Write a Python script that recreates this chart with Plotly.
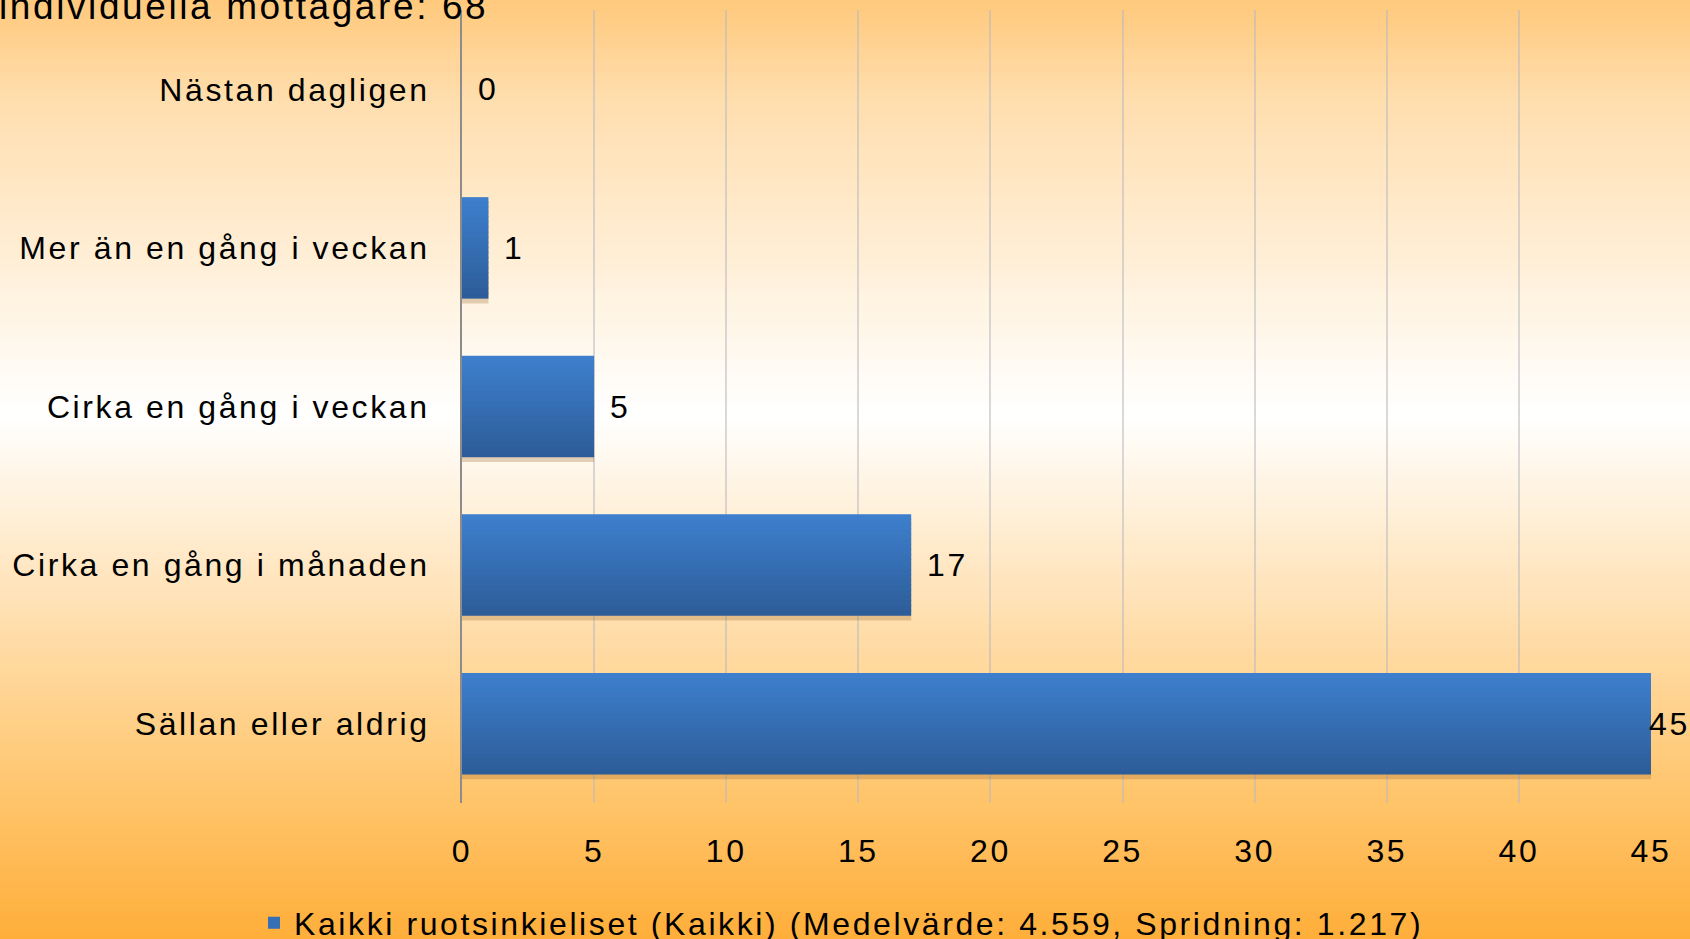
import plotly.graph_objects as go

categories = ["Nästan dagligen", "Mer än en gång i veckan", "Cirka en gång i veckan",
              "Cirka en gång i månaden", "Sällan eller aldrig"]
values = [0, 1, 5, 17, 45]
series_name = "Kaikki ruotsinkieliset (Kaikki) (Medelvärde: 4.559, Spridning: 1.217)"
title_line = "individuella mottagare: 68"
x_ticks = [0, 5, 10, 15, 20, 25, 30, 35, 40, 45]

W, H = 1690, 939
ML, MR, MT, MB = 462, 39, 10, 136
FONT = "Liberation Sans, Arial, sans-serif"
BAR_W = 0.64

def lerp(c0, c1, t):
    return tuple(round(a + (b - a) * t) for a, b in zip(c0, c1))

fig = go.Figure()

# soft shadow under bars
fig.add_trace(go.Bar(
    y=categories, x=values, orientation="h", width=BAR_W, offset=-BAR_W / 2 - 0.03,
    marker=dict(color="rgba(150,100,40,0.28)", line=dict(width=0)),
    showlegend=False, hoverinfo="skip",
))

# bar body with vertical gradient (light top -> dark bottom)
N = 20
bottom_c, top_c = (45, 93, 153), (61, 127, 205)
band = BAR_W / N
for k in range(N):
    c = lerp(bottom_c, top_c, k / (N - 1))
    fig.add_trace(go.Bar(
        y=categories, x=values, orientation="h",
        width=band + (0.006 if k < N - 1 else 0), offset=-BAR_W / 2 + k * band,
        marker=dict(color="rgb(%d,%d,%d)" % c, line=dict(width=0)),
        name=series_name, legendgroup="s", showlegend=(k == N // 2),
        hoverinfo="skip" if k != N // 2 else None,
    ))

# value labels
vmax = max(values)
for cat, v in zip(categories, values):
    fig.add_annotation(x=v, y=cat, xref="x", yref="y", text=str(v), showarrow=False,
                       xanchor="left", yanchor="middle", align="left",
                       xshift=(14 if v < vmax else -4),
                       font=dict(family=FONT, size=32, color="#000000"))

# background gradient bands (full figure)
pw = W - ML - MR
ph = H - MT - MB
stops = [(0, (255, 201, 124)), (100, (255, 222, 174)), (415, (255, 255, 255)),
         (600, (255, 226, 182)), (800, (255, 196, 106)), (939, (255, 174, 58))]

def col(py):
    for (y0, c0), (y1, c1) in zip(stops[:-1], stops[1:]):
        if y0 <= py <= y1:
            return "rgb(%d,%d,%d)" % lerp(c0, c1, (py - y0) / (y1 - y0))
    return "rgb(255,174,58)"

step = 6
for py in range(0, H, step):
    y_top = 1 - (py - MT) / ph
    y_bot = 1 - (py + step + 1 - MT) / ph
    fig.add_shape(type="rect", xref="paper", yref="paper",
                  x0=-ML / pw - 0.01, x1=1 + MR / pw + 0.01, y0=y_bot, y1=y_top,
                  fillcolor=col(py + step / 2), line=dict(width=0), layer="below")

fig.add_annotation(x=-ML / pw, y=1 + (MT - 7) / ph, xref="paper", yref="paper",
                   text=title_line, showarrow=False, xanchor="left", yanchor="middle",
                   align="left", xshift=-3,
                   font=dict(family=FONT, size=37, color="#000000"))

fig.update_layout(
    width=W, height=H,
    margin=dict(l=ML, r=MR, t=MT, b=MB, autoexpand=False),
    paper_bgcolor="rgba(0,0,0,0)", plot_bgcolor="rgba(0,0,0,0)",
    font=dict(family=FONT, size=32, color="#000000"),
    barmode="overlay",
    showlegend=True,
    legend=dict(orientation="h", xref="container", yref="container", x=254 / W, xanchor="left",
                y=1 - 923 / H, yanchor="middle", font=dict(family=FONT, size=32, color="#000000"),
                bgcolor="rgba(0,0,0,0)", itemwidth=30, entrywidth=1300, entrywidthmode="pixels"),
    xaxis=dict(range=[0, 45], tickvals=x_ticks, showgrid=True, gridcolor="rgba(185,185,190,0.55)",
               gridwidth=1.5, zeroline=False, showline=False, ticks="", ticklabelstandoff=26,
               tickfont=dict(family=FONT, size=32)),
    yaxis=dict(categoryorder="array", categoryarray=categories[::-1], range=[-0.5, 4.5],
               showline=True, linecolor="#8c8c8c", linewidth=2, ticks="", showgrid=False,
               ticklabelstandoff=24, tickfont=dict(family=FONT, size=32)),
)

post = (
    "document.body.style.margin='0';"
    "var s=document.createElement('style');"
    "s.textContent='.main-svg text{letter-spacing:2.6px;}';"
    "document.head.appendChild(s);"
)
fig.write_html("out.html", post_script=post, config={"displayModeBar": False})
